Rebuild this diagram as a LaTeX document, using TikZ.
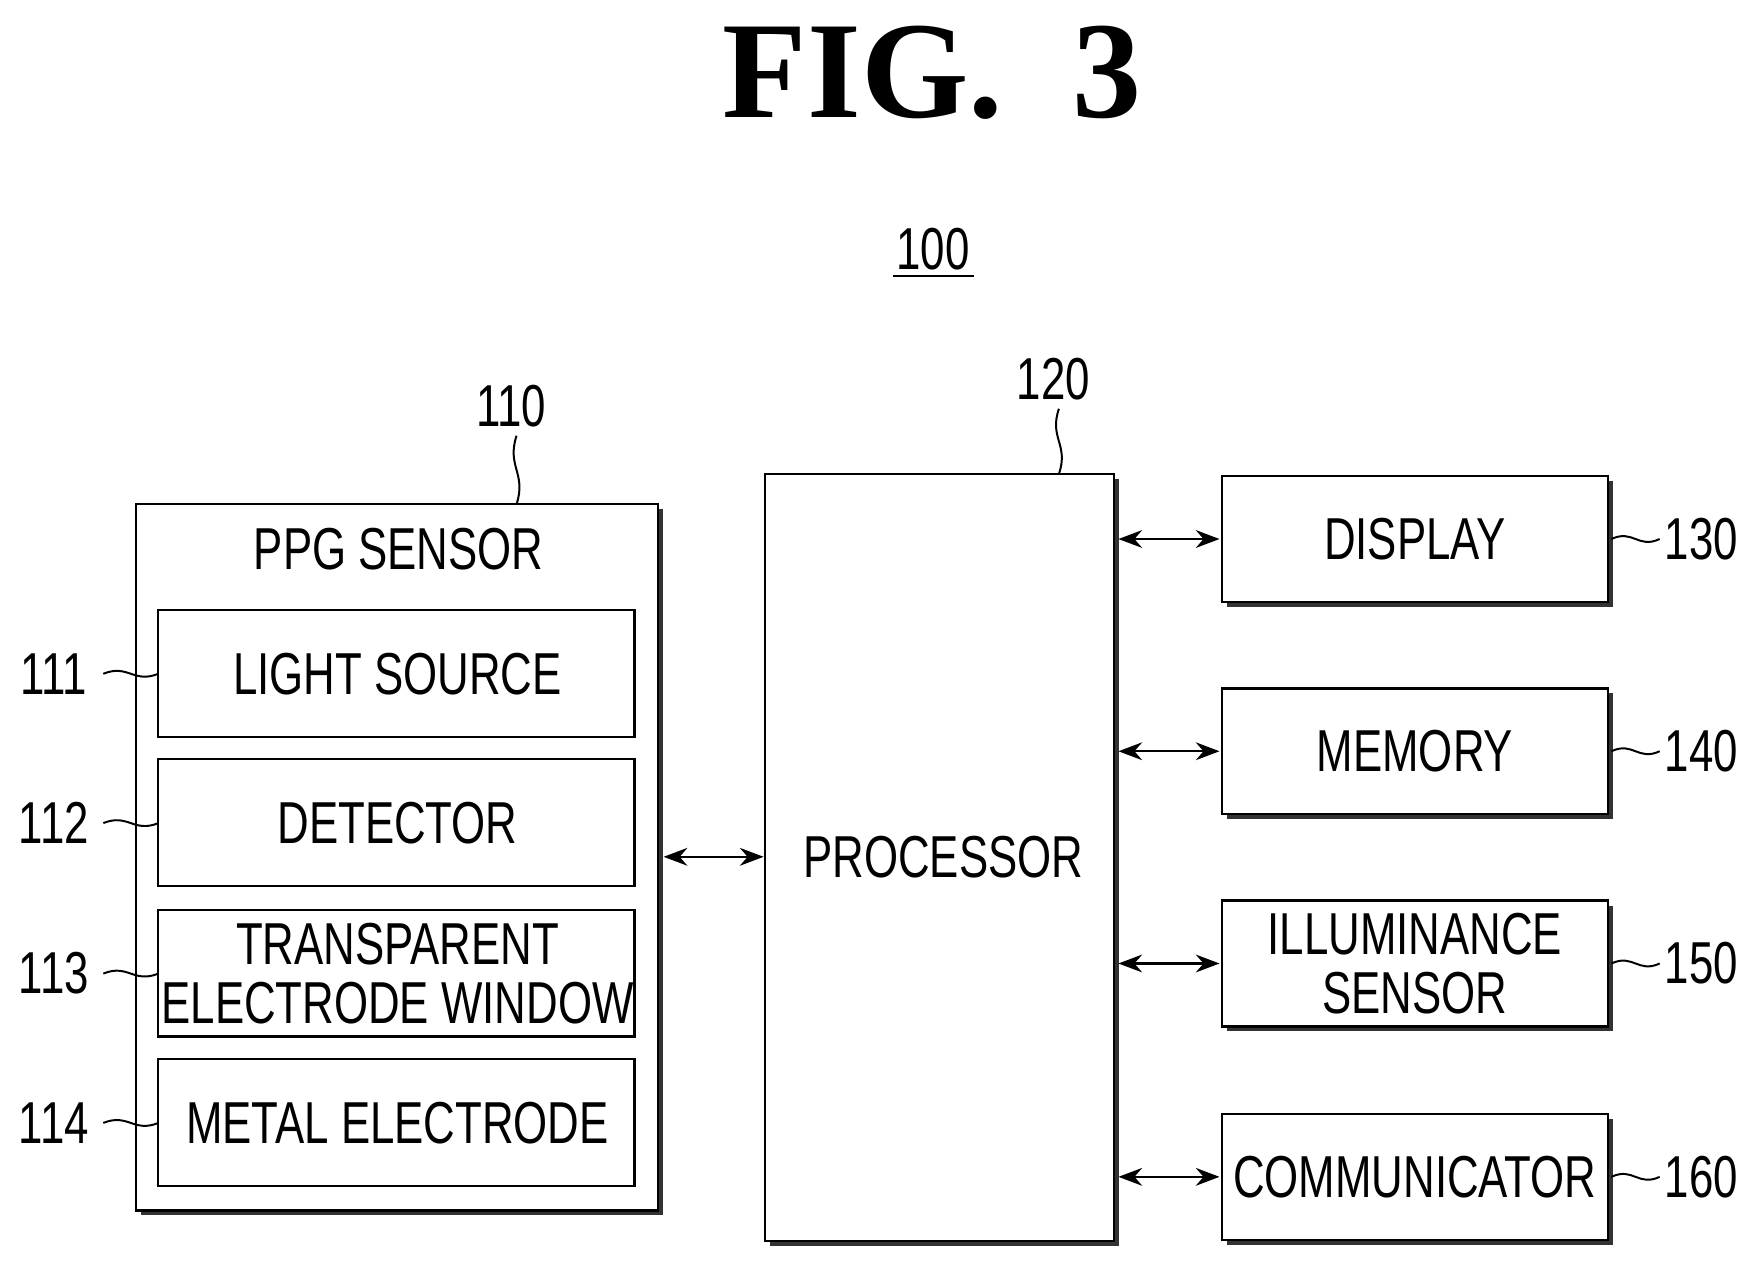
\documentclass[tikz,border=0pt]{standalone}
\usepackage{fontspec}
\setmainfont[FakeStretch=0.74]{Liberation Sans}
\newfontfamily\figfont{Liberation Serif}
\usetikzlibrary{positioning, calc, shadows, arrows.meta}

\tikzset{
    blk/.style={draw, line width=1.2pt, fill=white, drop shadow={shadow xshift=2.5pt, shadow yshift=-2.5pt, opacity=1, fill=black!80}},
    sub/.style={draw, line width=1.1pt, fill=white},
    lbl/.style={font=\fontsize{30}{33}\selectfont, align=center, inner sep=0pt},
    link/.style={{Stealth[length=12pt,width=9pt]}-{Stealth[length=12pt,width=9pt]}, line width=1.2pt},
}
\newcommand{\wiggle}[2]{\draw[line width=1pt] (#1) .. controls ($(#1)!0.45!(#2)+(0,-9)$) and ($(#1)!0.55!(#2)+(0,9)$) .. (#2);}
\newcommand{\vwiggle}[2]{\draw[line width=1pt] (#1) .. controls ($(#1)!0.45!(#2)+(-9,0)$) and ($(#1)!0.55!(#2)+(9,0)$) .. (#2);}

\begin{document}
\begin{tikzpicture}[x=0.02cm, y=-0.02cm]
    \useasboundingbox (0,0) rectangle (1570,1127);

    % Titel
    \node[font=\figfont\bfseries\fontsize{70}{72}\selectfont, inner sep=0pt] (fig) at (830,65) {FIG.\ \ 3};
    \node[lbl] (dev) at (831,222) {100};
    \draw[line width=1.2pt] (795,246) -- (867,246);

    % Sensor
    \draw[blk] (121,449) rectangle (586,1078);
    \coordinate (ppgtop) at (460,449);
    \node[lbl] (ppg) at (355,489) {PPG SENSOR};
    \node[lbl] (n110) at (455,362) {110};
    \coordinate (l110) at (460,388);
    \vwiggle{l110}{ppgtop}

    \foreach \name/\top/\txt/\num in {src/543/LIGHT SOURCE/111, det/676/DETECTOR/112,
        win/810/{TRANSPARENT\\[-3pt]ELECTRODE WINDOW}/113, met/943/METAL ELECTRODE/114} {
        \draw[sub] (141,\top) rectangle (565,\top+113);
        \node[lbl] (\name) at (354,\top+57) {\txt};
        \node[lbl] (n\num) at (48,\top+57) {\num};
        \coordinate (a\num) at (92,\top+57);
        \coordinate (b\num) at (141,\top+57);
        \wiggle{a\num}{b\num}
    }

    % Prozessor
    \draw[blk] (681,422) rectangle (992,1105);
    \node[lbl] (proc) at (840,763) {PROCESSOR};
    \node[lbl] (n120) at (938,338) {120};
    \coordinate (l120) at (943,364);
    \coordinate (proctop) at (943,422);
    \vwiggle{l120}{proctop}
    \coordinate (sensR) at (591,763);
    \coordinate (procL) at (680,763);
    \draw[link] (sensR) -- (procL);

    % Peripherie
    \foreach \name/\top/\txt/\num in {disp/424/DISPLAY/130, mem/613/MEMORY/140,
        ill/802/{ILLUMINANCE\\[-3pt]SENSOR}/150, com/992/COMMUNICATOR/160} {
        \draw[blk] (1088,\top) rectangle (1432,\top+112);
        \node[lbl] (\name) at (1260,\top+56) {\txt};
        \node[lbl] (n\num) at (1515,\top+56) {\num};
        \coordinate (c\num) at (1435,\top+56);
        \coordinate (d\num) at (1478,\top+56);
        \wiggle{c\num}{d\num}
        \coordinate (p\num) at (996,\top+56);
        \coordinate (q\num) at (1086,\top+56);
        \draw[link] (p\num) -- (q\num);
    }
\end{tikzpicture}
\end{document}
